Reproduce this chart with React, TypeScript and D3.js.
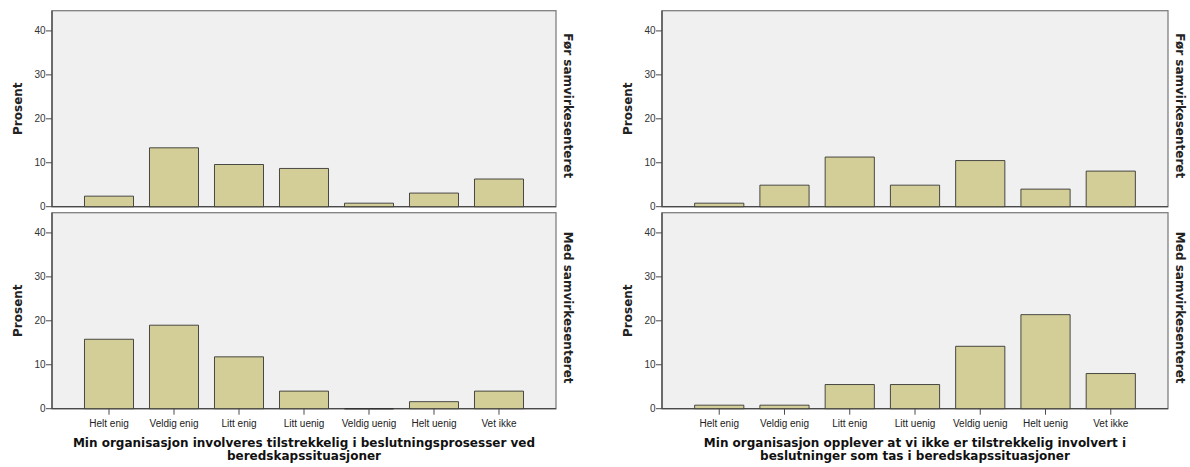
import React from "react";
import * as d3 from "d3";

const categories = ["Helt enig", "Veldig enig", "Litt enig", "Litt uenig", "Veldig uenig", "Helt uenig", "Vet ikke"];
const rowLabels = ["Før samvirkesenteret", "Med samvirkesenteret"];
const yTicks = [0, 10, 20, 30, 40];

// Left chart: "Min organisasjon involveres ..."
const leftFor = [2.4, 13.4, 9.6, 8.7, 0.8, 3.1, 6.3];
const leftMed = [15.8, 19.0, 11.8, 4.0, 0, 1.6, 4.0];
// Right chart: "Min organisasjon opplever ..."
const rightFor = [0.8, 4.9, 11.3, 4.9, 10.5, 4.0, 8.1];
const rightMed = [0.8, 0.8, 5.5, 5.5, 14.2, 21.4, 8.0];

const leftTitle = ["Min organisasjon involveres tilstrekkelig i beslutningsprosesser ved", "beredskapssituasjoner"];
const rightTitle = ["Min organisasjon opplever at vi ikke er tilstrekkelig involvert i", "beslutninger som tas i beredskapssituasjoner"];

const W = 1190;
const H = 467;
const panelsY = [
  { top: 10.7, bottom: 206.7 },
  { top: 212.7, bottom: 408.7 },
];
const yMax = 44.6;

const BAR_FILL = "#d3ce97";
const BG = "#f0f0f0";
const FRAME = "#808080";
const AXIS = "#4a4a4a";
const TEXT = "#222";

function Panel({ x0, x1, top, bottom, values, showX, rowLabel }: any) {
  const x = d3.scaleBand<string>().domain(categories).range([x0, x1]).paddingInner(0.246).paddingOuter(0.5);
  const y = d3.scaleLinear().domain([0, yMax]).range([bottom, top]);
  const barPath = (v: number, i: number) => {
    const p = d3.path();
    const bx = x(categories[i])!;
    const bw = x.bandwidth();
    p.moveTo(bx, y(0));
    p.lineTo(bx, y(v));
    p.lineTo(bx + bw, y(v));
    p.lineTo(bx + bw, y(0));
    p.closePath();
    return p.toString();
  };
  return (
    <g>
      <rect x={x0} y={top} width={x1 - x0} height={bottom - top} fill={BG} stroke={FRAME} strokeWidth={1.3} />
      <line x1={x0} x2={x1} y1={bottom} y2={bottom} stroke={AXIS} strokeWidth={1.3} />
      {values.map((v: number, i: number) => (
        <path
          key={i}
          d={barPath(v, i)}
          fill={BAR_FILL}
          stroke="#2e2e2e"
          strokeWidth={v === 0 ? 1.6 : 1}
          strokeOpacity={0.85}
        />
      ))}
      <line x1={x0} x2={x0} y1={top} y2={bottom} stroke={AXIS} strokeWidth={1.3} />
      {yTicks.map((t) => (
        <g key={t}>
          <line x1={x0 - 6} x2={x0} y1={y(t)} y2={y(t)} stroke={AXIS} strokeWidth={1} />
          <text x={x0 - 6.5} y={y(t)} dy="0.35em" textAnchor="end" fontFamily="Liberation Sans, Arial, sans-serif" fontSize={10} fill="#333">
            {t}
          </text>
        </g>
      ))}
      {showX &&
        categories.map((c) => {
          const cx = x(c)! + x.bandwidth() / 2;
          return (
            <g key={c}>
              <line x1={cx} x2={cx} y1={bottom} y2={bottom + 6} stroke={AXIS} strokeWidth={1} />
              <text x={cx} y={bottom + 18} textAnchor="middle" fontFamily="Liberation Sans, Arial, sans-serif" fontSize={10} fill="#222">
                {c}
              </text>
            </g>
          );
        })}
      <text
        transform={`translate(${x0 - 34},${(top + bottom) / 2}) rotate(-90)`}
        textAnchor="middle"
        dy="0.35em"
        fontFamily="DejaVu Sans, Verdana, sans-serif"
        fontWeight="bold"
        fontSize={12}
        fill={TEXT}
      >
        Prosent
      </text>
      <text
        transform={`translate(${x1 + 12.5},${(top + bottom) / 2 - 3}) rotate(90)`}
        textAnchor="middle"
        dy="0.35em"
        fontFamily="DejaVu Sans, Verdana, sans-serif"
        fontWeight="bold"
        fontSize={12}
        fill={TEXT}
      >
        {rowLabel}
      </text>
    </g>
  );
}

function Chart({ x0, x1, data, title }: any) {
  const cx = (x0 + x1) / 2;
  return (
    <g>
      {panelsY.map((p, i) => (
        <Panel key={i} x0={x0} x1={x1} top={p.top} bottom={p.bottom} values={data[i]} showX={i === 1} rowLabel={rowLabels[i]} />
      ))}
      {title.map((line: string, i: number) => (
        <text
          key={i}
          x={cx}
          y={447 + i * 13}
          textAnchor="middle"
          fontFamily="DejaVu Sans, Verdana, sans-serif"
          fontWeight="bold"
          fontSize={12}
          fill="#111"
        >
          {line}
        </text>
      ))}
    </g>
  );
}

export default function App() {
  return (
    <svg width={W} height={H} style={{ position: "absolute", left: 0, top: 0, background: "#fff" }}>
      <rect x={0} y={0} width={W} height={H} fill="#fff" />
      <Chart x0={52} x1={556} data={[leftFor, leftMed]} title={leftTitle} />
      <Chart x0={662} x1={1168} data={[rightFor, rightMed]} title={rightTitle} />
    </svg>
  );
}
